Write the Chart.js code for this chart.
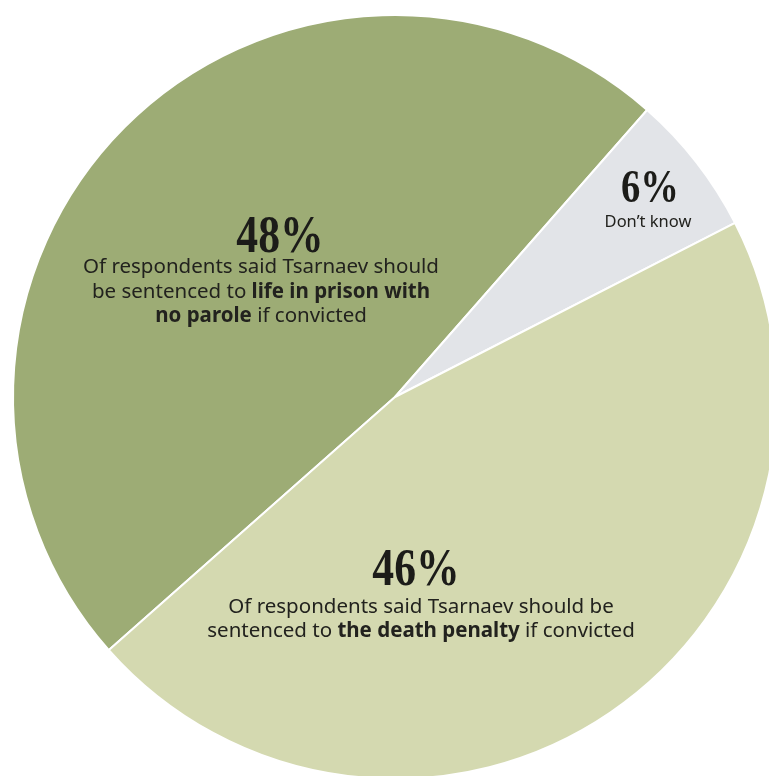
<!DOCTYPE html>
<html lang="en">
<head>
    <meta charset="UTF-8">
    <title>Tsarnaev sentencing poll</title>
    <script src="https://cdn.jsdelivr.net/npm/chart.js"></script>
    <style>
      html, body { margin: 0; padding: 0; background: #fff; overflow: hidden; }
      #wrap { position: absolute; left: 0; top: 0; }
    </style>
</head>
<body>
    <div id="wrap">
      <canvas id="pie" width="790" height="794"></canvas>
    </div>

    <script type="text/javascript" charset="utf-8">
      // poll results, in percent
      const categories = ["Life in prison with no parole", "Don't know", "The death penalty"];
      const values = [48, 6, 46];
      const colors = ["#9dac75", "#e2e4e8", "#d4d9b0"];

      // annotation text, one entry per slice: [text, bold] pieces for each line
      const captions = [
        [
          [["Of respondents said Tsarnaev should", false]],
          [["be sentenced to ", false], ["life in prison with", true]],
          [["no parole", true], [" if convicted", false]]
        ],
        [
          [["Don\u2019t know", false]]
        ],
        [
          [["Of respondents said Tsarnaev should be", false]],
          [["sentenced to ", false], ["the death penalty", true], [" if convicted", false]]
        ]
      ];

      function drawRich(ctx, parts, cx, y, size) {
        /* draw one line of mixed regular / bold text centred on cx */
        let total = 0;
        parts.forEach(p => {
          ctx.font = (p[1] ? "bold " : "") + size + "px 'Noto Sans'";
          total += ctx.measureText(p[0]).width;
        });
        let x = cx - total / 2;
        parts.forEach(p => {
          ctx.font = (p[1] ? "bold " : "") + size + "px 'Noto Sans'";
          ctx.fillText(p[0], x, y);
          x += ctx.measureText(p[0]).width;
        });
      }

      function drawPct(ctx, text, cx, y, size) {
        /* big condensed serif percentage */
        ctx.save();
        ctx.font = "bold " + size + "px 'Liberation Serif'";
        ctx.textAlign = "center";
        ctx.translate(cx, y);
        ctx.scale(0.84, 1);
        ctx.fillText(text, 0, 0);
        ctx.restore();
      }

      const labelPlugin = {
        id: "labels",
        afterDatasetsDraw(chart) {
          const ctx = chart.ctx;
          const arc = chart.getDatasetMeta(0).data[0];
          const cx = arc.x, cy = arc.y;
          ctx.save();
          ctx.textBaseline = "alphabetic";
          ctx.textAlign = "left";

          // 48% slice
          ctx.fillStyle = "#1c1c19";
          drawPct(ctx, values[0] + "%", cx - 115, cy - 145, 52);
          ctx.fillStyle = "#22221e";
          captions[0].forEach((line, i) => drawRich(ctx, line, cx - 134, cy - 124 + i * 24.5, 20.5));

          // 6% slice
          ctx.fillStyle = "#1c1c19";
          drawPct(ctx, values[1] + "%", cx + 255, cy - 195, 46);
          ctx.fillStyle = "#22221e";
          captions[1].forEach((line, i) => drawRich(ctx, line, cx + 253, cy - 170, 16.5));

          // 46% slice
          ctx.fillStyle = "#1c1c19";
          drawPct(ctx, values[2] + "%", cx + 21, cy + 188, 52);
          ctx.fillStyle = "#22221e";
          captions[2].forEach((line, i) => drawRich(ctx, line, cx + 26, cy + 216 + i * 24, 20.5));

          ctx.restore();
        }
      };

      const chart = new Chart(document.getElementById("pie"), {
        type: "pie",
        data: {
          labels: categories,
          datasets: [{
            data: values,
            backgroundColor: colors,
            borderColor: "#ffffff",
            borderWidth: 2
          }]
        },
        options: {
          responsive: false,
          animation: false,
          rotation: 228.5,
          layout: { padding: 12 },
          plugins: {
            legend: { display: false },
            tooltip: { enabled: false }
          }
        },
        plugins: [labelPlugin]
      });
    </script>
</body>
</html>
